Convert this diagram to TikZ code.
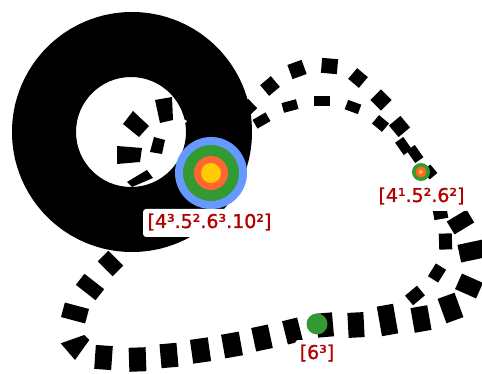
\documentclass[tikz,border=0pt]{standalone}
\usepackage{fontspec}
\setmainfont{DejaVu Sans}
\newfontfamily\lblfont{DejaVu Sans}[FakeBold=1.2]
\definecolor{lblred}{RGB}{178,0,0}
\definecolor{nblue}{RGB}{102,153,255}
\definecolor{ngreen}{RGB}{51,153,51}
\definecolor{norange}{RGB}{255,102,51}
\definecolor{nyellow}{RGB}{255,204,0}
% dash: centre x, centre y, visual angle, length along curve, width
\newcommand{\dsh}[5]{\fill[rotate around={#3:(#1,#2)}] ({#1-#4/2},{#2-#5/2}) rectangle ({#1+#4/2},{#2+#5/2});}
\begin{document}
\begin{tikzpicture}[x=1pt,y=-1pt,
  dot/.style={circle, inner sep=0pt, draw=none},
  lbl/.style={fill=white, rounded corners=3pt, text=lblred,
    font=\lblfont\fontsize{19}{19}\selectfont, inner xsep=4.5pt, inner ysep=4pt,
    text height=15pt, text depth=5pt}]
\useasboundingbox (0,0) rectangle (482,374);
% big ring
\fill[black, even odd rule] (132,132) circle (120pt) (131,132) circle (55pt);
% white teeth at right edge of the hole
\fill[white] (177,116) -- (187,121) -- (180,128) -- cycle;
\fill[white] (176,133) -- (185,139) -- (177,145) -- cycle;
% dashes inside the hole
\fill (155,100) -- (172,97) -- (173,120) -- (160,123) -- cycle;
\fill (133,111) -- (149,126) -- (139,137) -- (123,124) -- cycle;
\fill (117,146) -- (142,148) -- (140,162) -- (117,164) -- cycle;
\fill (154,137) -- (165,140) -- (162,154) -- (150,152) -- cycle;
\fill (127,182) -- (147,170) -- (153,178) -- (132,187) -- cycle;
% outer top arc
\dsh{248}{108}{44}{13}{13}
\dsh{270}{86}{40}{14}{14}
\dsh{297}{69.5}{20}{15}{15}
\dsh{329.5}{66}{-5}{16}{15}
\dsh{358}{78}{-40}{14}{14}
\dsh{381}{100}{-45}{15}{15}
\dsh{399.5}{126.5}{-50}{15}{15}
\dsh{415}{154}{-55}{15}{10}
% inner top arc
\dsh{261.5}{120.5}{30}{15}{10}
\dsh{290}{106}{15}{15}{10}
\dsh{321.5}{101}{0}{16}{10}
\dsh{353}{107}{-20}{14}{10}
\dsh{380.5}{123.5}{-40}{13}{11}
\dsh{403.5}{146}{-55}{15}{10}
\dsh{430}{172}{-50}{11}{10}
% right side, inner strand
\dsh{440.5}{214}{-80}{10}{14}
\dsh{445.5}{241.5}{-88}{16}{13}
\dsh{437}{273}{58}{15}{12}
\dsh{415}{295.5}{40}{15.5}{12.5}
% right side, outer strand
\dsh{460.5}{222}{-59}{15}{23}
\dsh{472}{251}{-78}{18}{26}
\dsh{469}{286}{66}{17}{23}
\dsh{450.5}{308}{20}{18}{26}
% bottom strand
\dsh{421}{319}{10}{17}{25}
\dsh{387.5}{320}{10}{16.5}{30}
\dsh{356}{325}{3}{16}{25}
\dsh{325}{325}{5}{16}{24}
\dsh{292.5}{331}{14}{15.5}{24}
\dsh{262}{338}{12}{17}{24}
\dsh{232}{345}{10}{18}{24}
\dsh{200.5}{350.5}{8}{18}{24}
\dsh{169}{355.5}{5}{17}{24}
\dsh{137.5}{359.5}{2}{17}{24}
\dsh{103.5}{357.5}{-4}{17}{24}
\fill (60.7,343.3) -- (84.3,335) -- (89.3,340) -- (75,360) -- cycle;
\dsh{75}{313}{75}{15}{25}
\dsh{90}{287}{52}{14}{25}
\dsh{110.5}{263.5}{45}{15}{21}
% vertices
\node[dot, fill=nblue,   minimum size=72pt] (v1)  at (211,173) {};
\node[dot, fill=ngreen,  minimum size=56pt] (v1g) at (v1) {};
\node[dot, fill=norange, minimum size=34pt] (v1o) at (v1) {};
\node[dot, fill=nyellow, minimum size=20pt] (v1y) at (v1) {};
\node[dot, fill=ngreen,  minimum size=18pt] (v2)  at (421,172) {};
\node[dot, fill=norange, minimum size=11pt] (v2o) at (v2) {};
\node[dot, fill=nyellow, minimum size=4pt]  (v2y) at (v2) {};
\node[dot, fill=ngreen,  minimum size=21pt] (v3)  at (317,324) {};
% labels
\node[lbl] (l1) at (209.5,223) {[4³.5².6³.10²]};
\node[lbl] (l2) at (421.5,197) {[4¹.5².6²]};
\node[lbl] (l3) at (317,354) {[6³]};
\end{tikzpicture}
\end{document}
